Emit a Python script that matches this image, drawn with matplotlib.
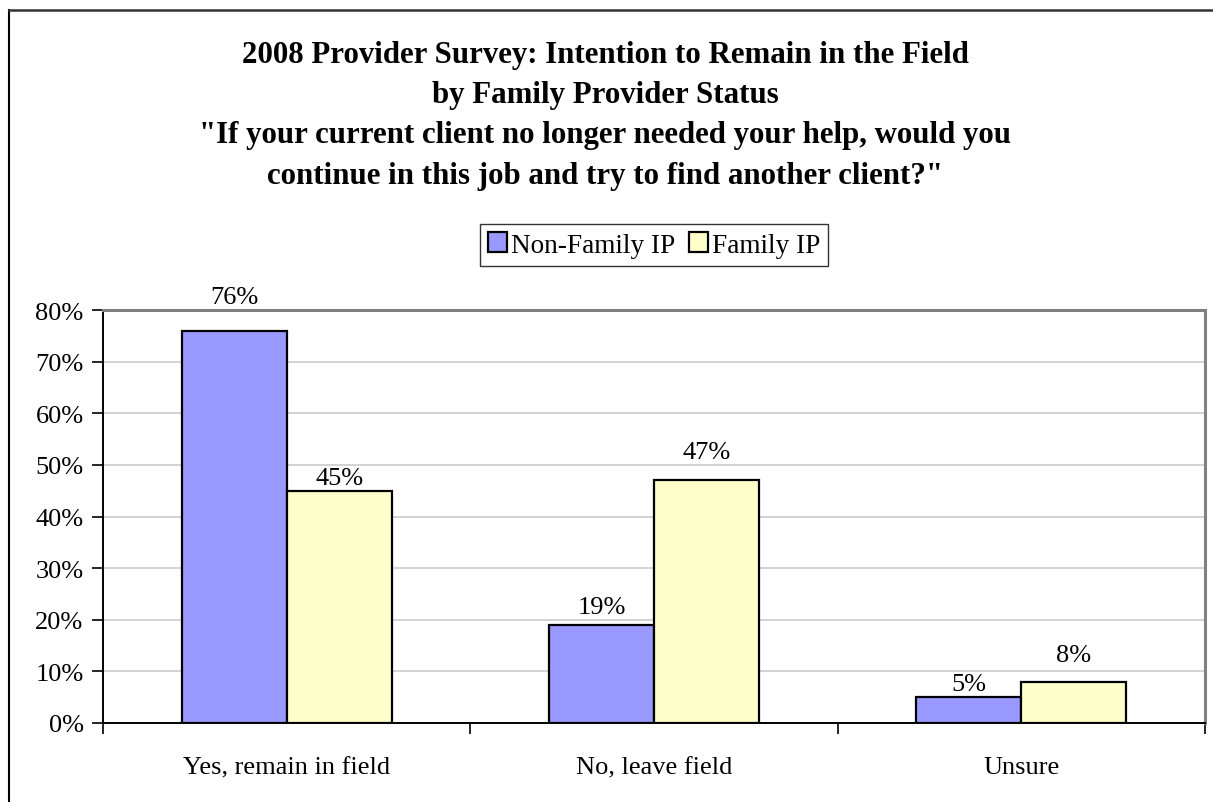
import matplotlib
matplotlib.use("Agg")
import matplotlib.pyplot as plt
from matplotlib.patches import Patch
from matplotlib.lines import Line2D
from matplotlib.ticker import FuncFormatter, MultipleLocator
import numpy as np

plt.rcParams['font.family'] = ['Liberation Serif', 'DejaVu Serif']

# Survey answers by provider group (percent)
categories = ["Yes, remain in field", "No, leave field", "Unsure"]
series_names = ["Non-Family IP", "Family IP"]
non_family = [76, 19, 5]
family = [45, 47, 8]

# label lift above each bar top, in pixels
non_family_lift = [34, 18, 13]
family_lift = [13, 28, 27]

colors = ["#9999FF", "#FFFFCC"]

W, H, DPI = 1213, 803, 100
fig = plt.figure(figsize=(W / DPI, H / DPI), dpi=DPI)

# outer chart frame (top and left edges)
fig.add_artist(Line2D([9 / W, 9 / W], [0, 1 - 11 / H], color="black", lw=1.5))
fig.add_artist(Line2D([9 / W, 1], [1 - 11 / H, 1 - 11 / H], color="#333333", lw=1.8))

title_lines = [
    "2008 Provider Survey: Intention to Remain in the Field",
    "by Family Provider Status",
    "\"If your current client no longer needed your help, would you",
    "continue in this job and try to find another client?\"",
]
for i, line in enumerate(title_lines):
    fig.text(605 / W, 1 - (55 + 40.5 * i) / H, line, ha="center", va="center",
             fontsize=22.2, fontweight="bold")

left, right, top, bottom = 103, 1205, 311, 724
ax = fig.add_axes([left / W, 1 - bottom / H, (right - left) / W, (bottom - top) / H])

x = np.arange(len(categories))
bw = 0.286
bars_a = ax.bar(x - bw / 2, non_family, bw, color=colors[0], edgecolor="black", lw=1.6, zorder=3)
bars_b = ax.bar(x + bw / 2, family, bw, color=colors[1], edgecolor="black", lw=1.6, zorder=3)

for bars, vals, lifts in [(bars_a, non_family, non_family_lift), (bars_b, family, family_lift)]:
    for b, v, lift in zip(bars, vals, lifts):
        ax.annotate(f"{v}%", (b.get_x() + b.get_width() / 2, v),
                    xytext=(0, lift * 72 / DPI), textcoords="offset points",
                    ha="center", va="center", fontsize=19, annotation_clip=False)

ax.set_xlim(-0.5, len(categories) - 0.5)
ax.set_ylim(0, 80)
ax.yaxis.set_major_locator(MultipleLocator(10))
ax.yaxis.set_major_formatter(FuncFormatter(lambda v, _: f"{v:.0f}%"))
ax.grid(axis="y", color="#c8c8c8", lw=1.1, zorder=0)
ax.set_axisbelow(True)

# category boundaries get the tick marks, names sit between them
ax.set_xticks(np.arange(len(categories) + 1) - 0.5)
ax.set_xticklabels([])
ax.set_xticks(x, minor=True)
ax.set_xticklabels(categories, minor=True)
ax.tick_params(axis="x", which="major", direction="out", length=8, width=1.2, color="black")
ax.tick_params(axis="x", which="minor", length=0, pad=24, labelsize=19)
ax.tick_params(axis="y", direction="out", length=8, width=1.2, pad=6, labelsize=19)

for s in ["left", "bottom"]:
    ax.spines[s].set_color("black")
    ax.spines[s].set_linewidth(1.4)
for s in ["top", "right"]:
    ax.spines[s].set_color("#808080")
    ax.spines[s].set_linewidth(2.2)

handles = [Patch(facecolor=c, edgecolor="black", lw=1.6) for c in colors]
leg = fig.legend(handles, series_names, loc="center", bbox_to_anchor=(654 / W, 1 - 246 / H),
                 ncol=2, fontsize=19.6, frameon=True, fancybox=False, edgecolor="black",
                 handlelength=0.7, handleheight=0.7, handletextpad=0.15, columnspacing=0.5,
                 borderpad=0.3, borderaxespad=0)
leg.get_frame().set_linewidth(1.0)

fig.savefig("out.png", dpi=DPI)
